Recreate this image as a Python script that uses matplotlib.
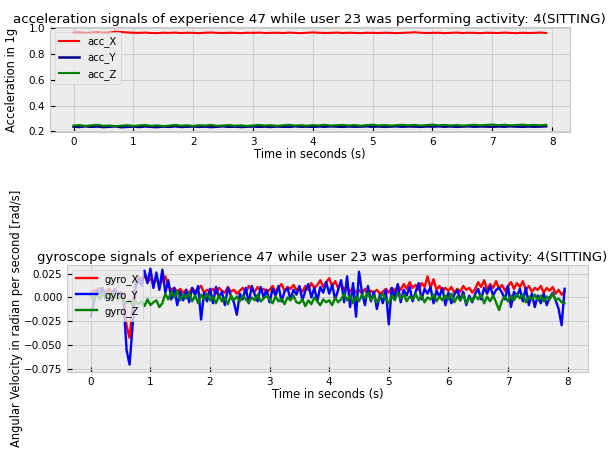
import numpy as np
import matplotlib
matplotlib.use("Agg")
import matplotlib.pyplot as plt

# time axes (s)
t_acc = np.arange(80) * 0.1
t_gyro = np.arange(160) * 0.05

# accelerations (in 1g), sampled every 0.1 s
acc_X = [0.965, 0.966, 0.964, 0.965, 0.967, 0.965, 0.966, 0.974, 0.972, 0.968,
         0.966, 0.965, 0.967, 0.964, 0.963, 0.966, 0.965, 0.967, 0.964, 0.966,
         0.965, 0.963, 0.966, 0.968, 0.965, 0.964, 0.966, 0.965, 0.963, 0.966,
         0.965, 0.967, 0.964, 0.965, 0.966, 0.964, 0.967, 0.965, 0.963, 0.966,
         0.968, 0.966, 0.964, 0.965, 0.967, 0.964, 0.966, 0.965, 0.963, 0.966,
         0.965, 0.964, 0.966, 0.965, 0.963, 0.965, 0.967, 0.970, 0.966, 0.964,
         0.965, 0.966, 0.963, 0.965, 0.967, 0.964, 0.966, 0.965, 0.963, 0.966,
         0.965, 0.964, 0.967, 0.965, 0.963, 0.966, 0.964, 0.965, 0.968, 0.964]
acc_Y = [0.238, 0.235, 0.240, 0.236, 0.239, 0.234, 0.237, 0.240, 0.233, 0.236,
         0.238, 0.235, 0.239, 0.236, 0.234, 0.238, 0.236, 0.240, 0.235, 0.237,
         0.239, 0.236, 0.238, 0.234, 0.237, 0.240, 0.236, 0.238, 0.235, 0.237,
         0.239, 0.236, 0.238, 0.235, 0.239, 0.237, 0.236, 0.240, 0.237, 0.238,
         0.236, 0.239, 0.237, 0.240, 0.238, 0.236, 0.239, 0.237, 0.238, 0.240,
         0.237, 0.239, 0.236, 0.238, 0.240, 0.237, 0.239, 0.238, 0.236, 0.239,
         0.238, 0.240, 0.237, 0.239, 0.236, 0.238, 0.240, 0.237, 0.239, 0.238,
         0.236, 0.239, 0.237, 0.240, 0.238, 0.236, 0.239, 0.237, 0.238, 0.240]
acc_Z = [0.246, 0.250, 0.243, 0.248, 0.252, 0.244, 0.247, 0.241, 0.245, 0.249,
         0.243, 0.247, 0.250, 0.244, 0.248, 0.242, 0.246, 0.251, 0.245, 0.248,
         0.243, 0.249, 0.246, 0.251, 0.244, 0.247, 0.250, 0.245, 0.248, 0.243,
         0.247, 0.251, 0.246, 0.249, 0.244, 0.248, 0.252, 0.246, 0.249, 0.245,
         0.250, 0.247, 0.252, 0.246, 0.249, 0.251, 0.247, 0.250, 0.245, 0.249,
         0.253, 0.247, 0.250, 0.246, 0.249, 0.252, 0.248, 0.251, 0.246, 0.250,
         0.253, 0.248, 0.251, 0.247, 0.250, 0.246, 0.249, 0.252, 0.248, 0.251,
         0.254, 0.249, 0.252, 0.248, 0.250, 0.253, 0.249, 0.251, 0.248, 0.252]

# angular velocities (rad/s), sampled every 0.05 s
gyro_X = [0.004, 0.008, 0.006, 0.010, 0.007, 0.005, 0.009, 0.006, 0.008, 0.004,
          0.006, 0.002, -0.030, -0.042, -0.010, 0.015, 0.022, 0.018, 0.024, 0.016,
          0.020, 0.014, 0.021, 0.012, 0.018, 0.022, 0.012, 0.008, 0.010, 0.006,
          0.009, 0.005, 0.008, 0.004, 0.010, 0.006, 0.009, 0.012, 0.005, 0.008,
          0.006, 0.009, 0.004, 0.010, 0.007, 0.005, 0.011, 0.006, 0.008, 0.004,
          0.007, 0.010, 0.005, 0.012, 0.008, 0.006, 0.011, 0.007, 0.009, 0.005,
          0.008, 0.012, 0.006, 0.010, 0.014, 0.007, 0.011, 0.009, 0.013, 0.008,
          0.010, 0.006, 0.012, 0.008, 0.015, 0.010, 0.013, 0.018, 0.011, 0.016,
          0.020, 0.012, 0.017, 0.010, 0.014, 0.008, 0.012, 0.006, 0.010, 0.005,
          0.008, 0.004, 0.009, 0.003, 0.007, 0.005, 0.008, 0.004, 0.006, 0.009,
          0.005, 0.010, 0.007, 0.012, 0.008, 0.014, 0.009, 0.016, 0.010, 0.013,
          0.008, 0.015, 0.011, 0.022, 0.010, 0.019, 0.008, 0.012, 0.006, 0.010,
          0.007, 0.011, 0.005, 0.009, 0.006, 0.012, 0.008, 0.010, 0.005, 0.009,
          0.016, 0.011, 0.018, 0.008, 0.014, 0.010, 0.017, 0.009, 0.013, 0.007,
          0.012, 0.016, 0.009, 0.015, 0.011, 0.017, 0.008, 0.012, 0.006, 0.010,
          0.008, 0.012, 0.005, 0.010, 0.007, 0.011, 0.004, 0.008, 0.003, 0.006]
gyro_Y = [-0.020, -0.005, 0.008, 0.004, 0.010, -0.002, 0.006, 0.001, 0.009, 0.003,
          0.005, -0.005, -0.055, -0.070, -0.030, 0.010, 0.020, 0.012, 0.028, 0.015,
          0.030, 0.010, 0.026, 0.008, 0.029, 0.005, 0.018, -0.002, 0.010, -0.008,
          0.006, -0.003, 0.008, -0.005, 0.010, 0.002, 0.012, -0.023, 0.005, -0.004,
          0.009, -0.006, 0.011, 0.000, 0.006, -0.008, 0.010, 0.002, -0.005, -0.018,
          0.004, -0.002, 0.010, -0.006, 0.012, 0.003, -0.004, 0.011, 0.000, 0.008,
          -0.005, 0.009, 0.002, 0.012, -0.004, 0.006, 0.010, -0.002, 0.008, 0.003,
          0.012, -0.003, 0.007, 0.014, 0.000, 0.010, -0.004, 0.011, 0.005, 0.016,
          0.004, 0.013, -0.002, 0.008, 0.018, -0.005, 0.022, -0.010, 0.015, -0.020,
          0.027, 0.005, -0.008, 0.012, -0.004, 0.006, -0.012, 0.003, -0.006, 0.008,
          -0.028, 0.010, 0.000, 0.014, -0.005, 0.008, 0.002, 0.011, -0.004, 0.006,
          0.015, -0.002, 0.009, 0.004, 0.011, -0.006, 0.007, 0.001, 0.010, -0.008,
          0.005, -0.006, 0.003, 0.008, -0.003, 0.006, -0.008, 0.002, -0.005, 0.004,
          0.009, -0.002, 0.010, 0.004, 0.012, 0.002, 0.008, 0.010, 0.005, -0.002,
          0.012, -0.010, 0.006, 0.001, 0.009, -0.004, 0.010, -0.008, 0.004, -0.010,
          0.002, -0.006, 0.004, -0.008, 0.000, 0.005, -0.003, -0.012, -0.029, 0.009]
gyro_Z = [0.002, -0.003, 0.005, -0.002, 0.004, 0.000, 0.006, -0.001, 0.003, -0.002,
          0.001, -0.004, -0.006, -0.003, -0.008, -0.004, -0.007, -0.004, -0.009, -0.002,
          -0.008, -0.005, -0.003, -0.010, -0.006, 0.004, -0.002, 0.006, 0.000, 0.007,
          -0.003, 0.003, -0.001, 0.005, -0.004, 0.002, -0.006, 0.003, -0.002, 0.004,
          -0.003, 0.001, -0.006, 0.002, -0.004, 0.000, -0.007, 0.002, -0.003, 0.001,
          -0.004, 0.002, -0.002, -0.005, 0.000, -0.003, 0.003, -0.004, -0.001, 0.002,
          -0.002, -0.006, 0.001, -0.004, -0.001, -0.007, 0.000, -0.003, 0.002, -0.005,
          -0.006, -0.002, -0.009, -0.003, -0.007, 0.000, -0.004, -0.008, -0.002, -0.005,
          -0.003, -0.008, 0.000, -0.005, -0.002, 0.004, -0.003, 0.002, -0.006, 0.001,
          -0.004, 0.003, -0.001, 0.005, -0.003, 0.002, -0.005, 0.000, 0.004, -0.002,
          -0.006, 0.002, -0.003, 0.005, -0.001, 0.003, -0.004, 0.001, -0.002, 0.004,
          -0.003, 0.002, -0.005, 0.000, -0.002, 0.003, -0.004, 0.001, -0.003, 0.002,
          -0.002, 0.004, -0.005, 0.001, -0.003, 0.003, -0.006, 0.000, -0.004, 0.002,
          -0.002, 0.003, -0.006, 0.001, -0.004, 0.002, -0.005, -0.013, -0.003, 0.001,
          -0.004, 0.002, -0.003, 0.004, -0.001, 0.003, -0.005, 0.001, -0.002, 0.003,
          -0.003, 0.002, -0.004, 0.001, -0.002, 0.004, -0.003, -0.001, -0.005, -0.006]

title_acc = "acceleration signals of experience 47 while user 23 was performing activity: 4(SITTING)"
title_gyro = "gyroscope signals of experience 47 while user 23 was performing activity: 4(SITTING)"

plt.style.use('bmh')
plt.rcParams["font.family"] = "DejaVu Sans"
plt.rcParams["grid.linestyle"] = "-"
plt.rcParams["grid.color"] = "#d0d0d0"
plt.rcParams["grid.linewidth"] = 0.8
plt.rcParams["axes.edgecolor"] = "#c8c8c8"
plt.rcParams["axes.facecolor"] = "#ececec"

fig = plt.figure(figsize=(6.16, 4.49), dpi=100)
fig.patch.set_facecolor('white')

ax1 = fig.add_axes([0.081, 0.706, 0.844, 0.234])
ax1.plot(t_acc, acc_X, c='red', lw=1.5, label='acc_X')
ax1.plot(t_acc, acc_Y, c='darkblue', lw=1.8, label='acc_Y')
ax1.plot(t_acc, acc_Z, c='green', lw=1.5, label='acc_Z')
ax1.set_title(title_acc, fontsize=9.7, pad=3)
ax1.set_xlabel('Time in seconds (s)', fontsize=8.3, labelpad=1)
ax1.set_ylabel('Acceleration in 1g', fontsize=8.3)
ax1.yaxis.set_label_coords(-0.062, 0.5)
ax1.set_yticks([0.2, 0.4, 0.6, 0.8, 1.0])
ax1.legend(loc='upper left', fontsize=7.3, labelspacing=0.55)

ax2 = fig.add_axes([0.109, 0.171, 0.846, 0.239])
ax2.plot(t_gyro, gyro_X, c='red', lw=1.7, label='gyro_X')
ax2.plot(t_gyro, gyro_Y, c='blue', lw=1.7, label='gyro_Y')
ax2.plot(t_gyro, gyro_Z, c='green', lw=1.7, label='gyro_Z')
ax2.set_title(title_gyro, fontsize=9.5, pad=3, x=0.49)
ax2.set_xlabel('Time in seconds (s)', fontsize=8.3, labelpad=1)
ax2.set_ylabel('Angular Velocity in radian per second [rad/s]', fontsize=8.3)
ax2.yaxis.set_label_coords(-0.085, 0.5)
ax2.set_ylim(-0.078, 0.034)
ax2.set_yticks([-0.075, -0.050, -0.025, 0.0, 0.025])
ax2.legend(loc='upper left', fontsize=7.3, labelspacing=0.5)

for ax in (ax1, ax2):
    ax.tick_params(labelsize=7.5)

fig.savefig("out.png", dpi=100)
